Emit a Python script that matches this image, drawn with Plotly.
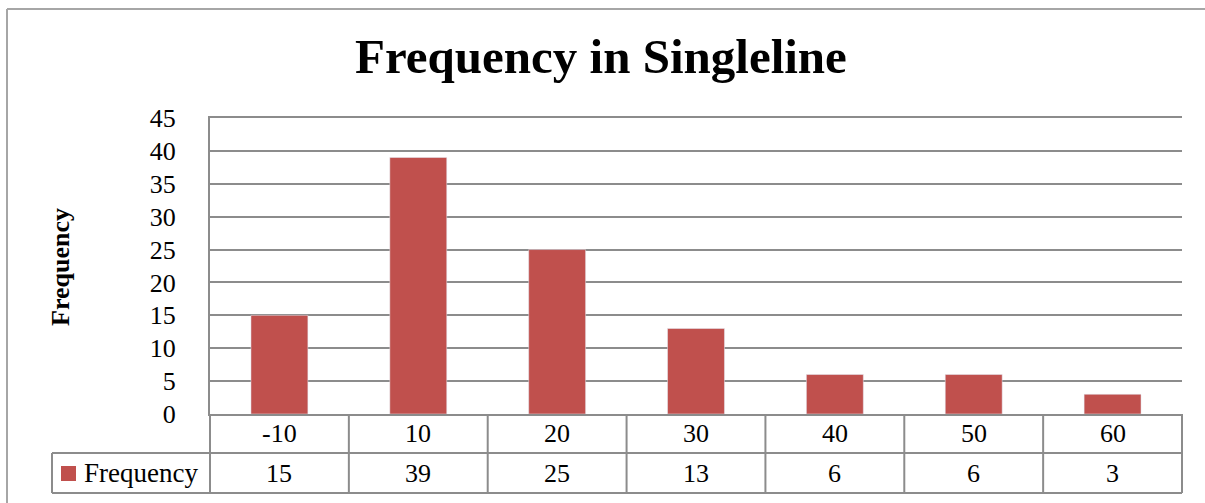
import plotly.graph_objects as go

categories = ["-10", "10", "20", "30", "40", "50", "60"]
frequency = [15, 39, 25, 13, 6, 6, 3]
y_ticks = [0, 5, 10, 15, 20, 25, 30, 35, 40, 45]
series_name = "Frequency"
title_text = "Frequency in Singleline"

W, H = 1205, 503
L, R, T, B = 210, 1182, 118, 414
FONT = "Liberation Serif"
GRID = "#8c8c8c"
FRAME = "#a6a6a6"
BAR = "#C0504D"


def px(xp):
    return (xp - L) / (R - L)


def py(yp):
    return (B - yp) / (B - T)


fig = go.Figure()
fig.add_trace(go.Bar(x=categories, y=frequency, marker_color=BAR, width=0.41,
                     name=series_name, showlegend=False))

shapes = []
# outer frame
shapes.append(dict(type="line", xref="paper", yref="paper", x0=px(7), x1=px(1206), y0=py(9), y1=py(9),
                   line=dict(color=FRAME, width=2)))
shapes.append(dict(type="line", xref="paper", yref="paper", x0=px(7), x1=px(7), y0=py(9), y1=py(504),
                   line=dict(color=FRAME, width=2)))
# table horizontals
for yy in (453, 493):
    shapes.append(dict(type="line", xref="paper", yref="paper", x0=px(52), x1=1, y0=py(yy), y1=py(yy),
                       line=dict(color=GRID, width=2)))
# table verticals
shapes.append(dict(type="line", xref="paper", yref="paper", x0=px(52), x1=px(52), y0=py(453), y1=py(493),
                   line=dict(color=GRID, width=2)))
shapes.append(dict(type="line", xref="paper", yref="paper", x0=0, x1=0, y0=0, y1=py(493),
                   line=dict(color=GRID, width=2)))
shapes.append(dict(type="line", xref="paper", yref="paper", x0=1, x1=1, y0=0, y1=py(493),
                   line=dict(color=GRID, width=2)))
for i in range(len(categories) - 1):
    shapes.append(dict(type="line", xref="x", yref="paper", x0=i + 0.5, x1=i + 0.5, y0=0, y1=py(493),
                       line=dict(color=GRID, width=2)))
# legend key
shapes.append(dict(type="rect", xref="paper", yref="paper", x0=px(61), x1=px(76), y0=py(481), y1=py(466),
                   fillcolor=BAR, line=dict(width=0)))

annotations = []
for i, (c, v) in enumerate(zip(categories, frequency)):
    annotations.append(dict(x=i, xref="x", y=py(433.5), yref="paper", text=c, showarrow=False,
                            font=dict(family=FONT, size=26, color="black"), xanchor="center", yanchor="middle"))
    annotations.append(dict(x=i, xref="x", y=py(473), yref="paper", text=str(v), showarrow=False,
                            font=dict(family=FONT, size=26, color="black"), xanchor="center", yanchor="middle"))
annotations.append(dict(x=px(82), xref="paper", y=py(473), yref="paper", text=series_name, showarrow=False,
                        font=dict(family=FONT, size=27, color="black"), xanchor="left", yanchor="middle"))
annotations.append(dict(x=px(60), xref="paper", y=py(267), yref="paper", text="<b>Frequency</b>", showarrow=False,
                        textangle=-90, font=dict(family=FONT, size=26, color="black"),
                        xanchor="center", yanchor="middle"))
annotations.append(dict(x=px(601), xref="paper", y=py(57), yref="paper", text="<b>" + title_text + "</b>",
                        showarrow=False, font=dict(family=FONT, size=49, color="black"),
                        xanchor="center", yanchor="middle"))

fig.update_layout(
    width=W, height=H,
    margin=dict(l=L, r=W - R, t=T, b=H - B),
    paper_bgcolor="white", plot_bgcolor="white",
    shapes=shapes, annotations=annotations,
    xaxis=dict(type="category", range=[-0.5, len(categories) - 0.5], showticklabels=False,
               showgrid=False, zeroline=False, showline=True, mirror=True,
               linecolor=GRID, linewidth=2, ticks=""),
    yaxis=dict(range=[0, 45], tickvals=y_ticks, ticktext=[str(t) for t in y_ticks],
               showgrid=True, gridcolor=GRID, gridwidth=2, zeroline=False,
               showline=True, linecolor=GRID, linewidth=2, ticks="", ticklabelstandoff=27,
               tickfont=dict(family=FONT, size=26, color="black")),
    bargap=0.59,
)

fig.write_html("out.html", config={"displayModeBar": False},
               post_script="document.body.style.margin='0';")
